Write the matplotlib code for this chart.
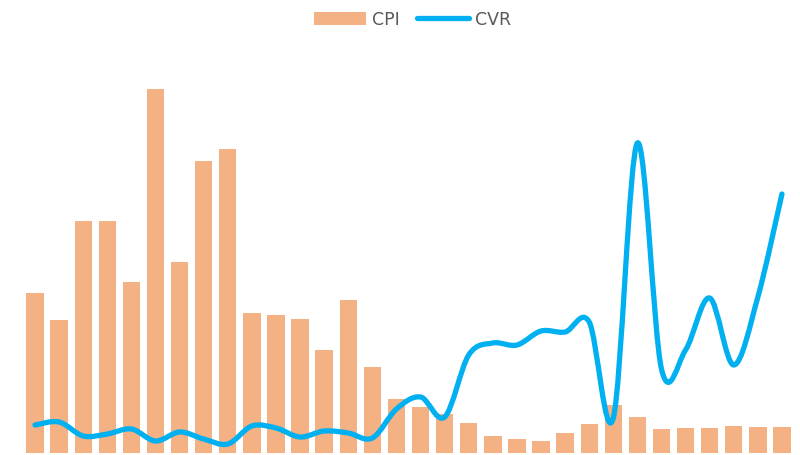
import matplotlib.pyplot as plt
from matplotlib.path import Path
from matplotlib.patches import PathPatch
import numpy as np

# weekly CPI (bars, left axis) and CVR (smoothed line, right axis)
periods = list(range(1, 33))
cpi = [1.60, 1.33, 2.32, 2.32, 1.71, 3.64, 1.91, 2.92, 3.04, 1.40, 1.38, 1.34,
       1.03, 1.53, 0.86, 0.54, 0.46, 0.39, 0.30, 0.17, 0.14, 0.12, 0.20, 0.29,
       0.48, 0.36, 0.24, 0.25, 0.25, 0.27, 0.26, 0.26]
cvr = [2.8, 3.1, 1.7, 1.9, 2.4, 1.2, 2.1, 1.4, 0.9, 2.7, 2.5, 1.6,
       2.2, 2.0, 1.5, 4.4, 5.6, 3.6, 9.8, 11.0, 10.8, 12.2, 12.1, 13.1,
       3.5, 31.0, 8.4, 10.3, 15.5, 8.8, 15.6, 25.9]

BAR_COLOR = '#F4B183'
LINE_COLOR = '#00B0F0'


def smooth_path(x, y):
    """Bezier path through the points, Catmull-Rom style tangents (like Excel's smoothed line)."""
    x = np.asarray(x, dtype=float)
    y = np.asarray(y, dtype=float)
    px = np.concatenate([[x[0]], x, [x[-1]]])
    py = np.concatenate([[y[0]], y, [y[-1]]])
    verts = [(x[0], y[0])]
    codes = [Path.MOVETO]
    for i in range(len(x) - 1):
        c1 = (x[i] + (px[i + 2] - px[i]) / 6, y[i] + (py[i + 2] - py[i]) / 6)
        c2 = (x[i + 1] - (px[i + 3] - px[i + 1]) / 6, y[i + 1] - (py[i + 3] - py[i + 1]) / 6)
        verts += [c1, c2, (x[i + 1], y[i + 1])]
        codes += [Path.CURVE4] * 3
    return Path(verts, codes)


fig = plt.figure(figsize=(8, 4.55), dpi=100)
ax = fig.add_axes([23 / 800, 2 / 455, 771 / 800, 403 / 455])
ax2 = ax.twinx()

ax.bar(periods, cpi, width=0.72, color=BAR_COLOR, label='CPI')
ax.set_xlim(0.5, 32.5)
ax.set_ylim(0, 4.03)

ax2.add_patch(PathPatch(smooth_path(periods, cvr), facecolor='none', edgecolor=LINE_COLOR,
                        linewidth=3.8, capstyle='round', joinstyle='round'))
ax2.plot([], [], color=LINE_COLOR, linewidth=3.8, solid_capstyle='round', label='CVR')
ax2.set_ylim(0, 40.3)

for a in (ax, ax2):
    a.set_xticks([])
    a.set_yticks([])
    for s in a.spines.values():
        s.set_visible(False)

h1, l1 = ax.get_legend_handles_labels()
h2, l2 = ax2.get_legend_handles_labels()
fig.legend(h1 + h2, l1 + l2, loc='center', bbox_to_anchor=(0.516, 0.957), ncol=2,
           frameon=False, fontsize=12.5, handlelength=3.0, handletextpad=0.35,
           columnspacing=1.0, labelcolor='#595959')

fig.savefig('out.png', dpi=100)
